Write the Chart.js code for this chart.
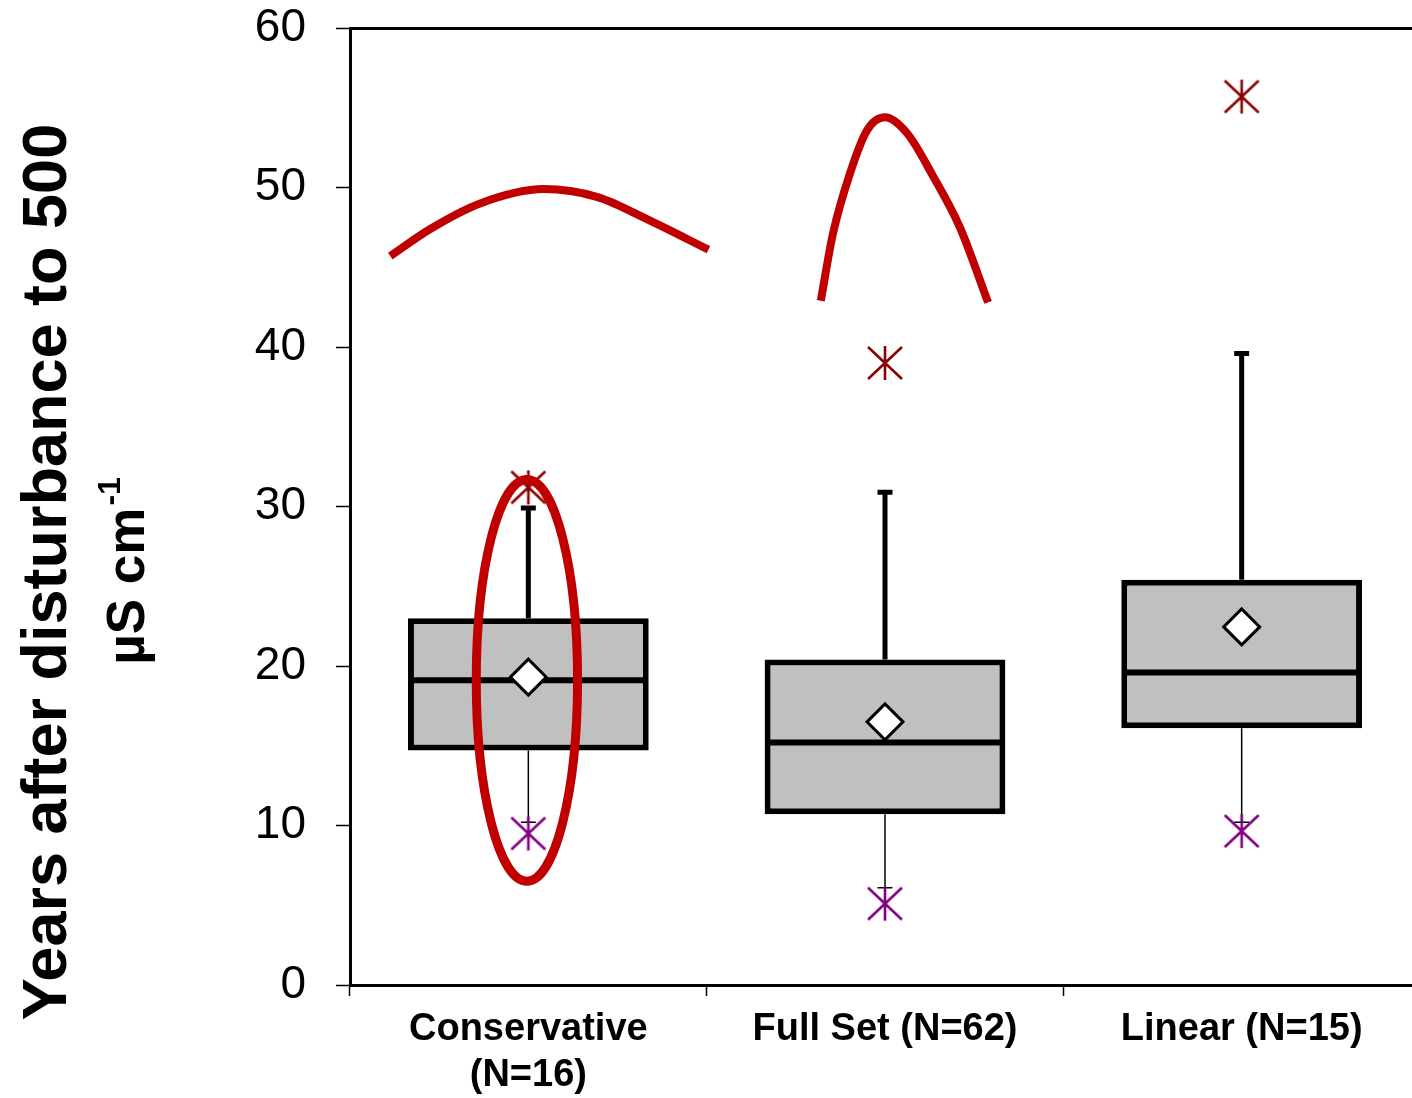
<!DOCTYPE html>
<html>
<head>
<meta charset="utf-8">
<script src="https://cdn.jsdelivr.net/npm/chart.js@4.4.1/dist/chart.umd.min.js"></script>
<style>
  html, body { margin: 0; padding: 0; background: #fff; overflow: hidden; }
  #myChart { display: block; }
</style>
</head>
<body>
<canvas id="myChart" width="1420" height="1098"></canvas>
<script>
// Werte
var categories = [["Conservative", "(N=16)"], "Full Set (N=62)", "Linear (N=15)"];
var q1 = [14.7, 10.7, 16.1];
var q3 = [23.0, 20.4, 25.4];
var medians = [19.1, 15.2, 19.6];
var means = [19.3, 16.5, 22.45];
var whiskerHigh = [29.9, 30.9, 39.6];
var whiskerLow = [10.2, 6.1, 10.2];
var outliersHigh = [31.2, 39.0, 55.7];
var outliersLow = [9.5, 5.1, 9.65];

// rote Markierungen (x = Kategorie-Index)
var arcOne = [
  { x: -0.387, y: 45.7 },
  { x: -0.275, y: 47.4 },
  { x: -0.135, y: 49.0 },
  { x: 0.042, y: 49.9 },
  { x: 0.194, y: 49.4 },
  { x: 0.334, y: 48.0 },
  { x: 0.505, y: 46.1 },
];
var arcTwo = [
  { x: 0.82, y: 42.9 },
  { x: 0.854, y: 47.1 },
  { x: 0.902, y: 50.9 },
  { x: 0.95, y: 53.6 },
  { x: 1.0, y: 54.4 },
  { x: 1.062, y: 53.4 },
  { x: 1.135, y: 50.7 },
  { x: 1.21, y: 47.5 },
  { x: 1.289, y: 42.8 },
];
var ring = { x: -0.004, y: 19.1, rx: 0.142, ry: 12.6 };

var yTitle = "Years after disturbance to 500";
var yUnit = "\u00b5S cm";
var yUnitSup = "-1";

var capHalf = 0.021;
var boxHalf = 0.33;

function segments(fn) {
  var out = [];
  for (var i = 0; i < categories.length; i++) {
    out = out.concat(fn(i));
    out.push({ x: null, y: null });
  }
  return out;
}

var boxes = q1.map(function (v, i) { return [v, q3[i]]; });
var medianLines = segments(function (i) {
  return [{ x: i - boxHalf, y: medians[i] }, { x: i + boxHalf, y: medians[i] }];
});
var upperWhisk = segments(function (i) {
  return [{ x: i, y: q3[i] }, { x: i, y: whiskerHigh[i] }, { x: null, y: null },
          { x: i - capHalf, y: whiskerHigh[i] }, { x: i + capHalf, y: whiskerHigh[i] }];
});
var lowerWhisk = segments(function (i) {
  return [{ x: i, y: q1[i] }, { x: i, y: whiskerLow[i] }, { x: null, y: null },
          { x: i - capHalf, y: whiskerLow[i] }, { x: i + capHalf, y: whiskerLow[i] }];
});
var meanPts = means.map(function (v, i) { return { x: i, y: v }; });
var highPts = outliersHigh.map(function (v, i) { return { x: i, y: v }; });
var lowPts = outliersLow.map(function (v, i) { return { x: i, y: v }; });

function makeStar(color) {
  var c = document.createElement("canvas");
  c.width = 38; c.height = 38;
  var g = c.getContext("2d");
  g.strokeStyle = color;
  g.lineWidth = 2.6;
  g.beginPath();
  g.moveTo(19, 2); g.lineTo(19, 36);
  g.moveTo(2, 3); g.lineTo(36, 35);
  g.moveTo(36, 3); g.lineTo(2, 35);
  g.stroke();
  return c;
}

function noPad(s) {
  s.paddingTop = 0; s.paddingBottom = 0; s.paddingLeft = 0; s.paddingRight = 0;
}

Chart.defaults.font.family = "'Liberation Sans', Arial, sans-serif";
Chart.defaults.color = "#000";

var extras = {
  id: "extras",
  afterDatasetsDraw: function (chart) {
    var xs = chart.scales.xs, y = chart.scales.y, ctx = chart.ctx;
    var cx = xs.getPixelForValue(ring.x), cy = y.getPixelForValue(ring.y);
    var rx = Math.abs(xs.getPixelForValue(ring.x + ring.rx) - cx);
    var ry = Math.abs(y.getPixelForValue(ring.y + ring.ry) - cy);
    ctx.save();
    ctx.strokeStyle = "#c00000";
    ctx.lineWidth = 9;
    ctx.beginPath();
    ctx.ellipse(cx, cy, rx, ry, 0, 0, Math.PI * 2);
    ctx.stroke();
    ctx.restore();
  },
  afterDraw: function (chart) {
    var ctx = chart.ctx;
    ctx.save();
    ctx.fillStyle = "#000";
    ctx.textBaseline = "alphabetic";
    ctx.translate(66, 572);
    ctx.rotate(-Math.PI / 2);
    ctx.font = "bold 63px 'Liberation Sans', Arial, sans-serif";
    ctx.textAlign = "center";
    ctx.fillText(yTitle, 0, 0);
    // zweite Zeile mit Hochzahl
    ctx.font = "bold 53px 'Liberation Sans', Arial, sans-serif";
    var w1 = ctx.measureText(yUnit).width;
    ctx.font = "bold 32px 'Liberation Sans', Arial, sans-serif";
    var w2 = ctx.measureText(yUnitSup).width;
    var start = -(w1 + w2) / 2;
    ctx.textAlign = "left";
    ctx.font = "bold 53px 'Liberation Sans', Arial, sans-serif";
    ctx.fillText(yUnit, start, 78);
    ctx.font = "bold 32px 'Liberation Sans', Arial, sans-serif";
    ctx.fillText(yUnitSup, start + w1 + 2, 78 - 24);
    ctx.restore();
  },
};

new Chart("myChart", {
  type: "bar",
  data: {
    labels: categories,
    datasets: [
      {
        type: "line",
        xAxisID: "xs",
        data: arcOne,
        borderColor: "#c00000",
        borderWidth: 8,
        borderCapStyle: "butt",
        pointRadius: 0,
        cubicInterpolationMode: "monotone",
        order: 0,
      },
      {
        type: "line",
        xAxisID: "xs",
        data: arcTwo,
        borderColor: "#c00000",
        borderWidth: 8,
        borderCapStyle: "butt",
        pointRadius: 0,
        cubicInterpolationMode: "monotone",
        order: 0,
      },
      {
        type: "scatter",
        xAxisID: "xs",
        data: highPts,
        pointStyle: makeStar("#8b0000"),
        order: 1,
      },
      {
        type: "scatter",
        xAxisID: "xs",
        data: lowPts,
        pointStyle: makeStar("#800080"),
        order: 1,
      },
      {
        type: "scatter",
        xAxisID: "xs",
        data: meanPts,
        pointStyle: "rectRot",
        pointRadius: 18,
        pointBackgroundColor: "#fff",
        pointBorderColor: "#000",
        pointBorderWidth: 3,
        order: 2,
      },
      {
        type: "line",
        xAxisID: "xs",
        data: medianLines,
        borderColor: "#000",
        borderWidth: 6,
        borderCapStyle: "butt",
        pointRadius: 0,
        spanGaps: false,
        order: 3,
      },
      {
        type: "line",
        xAxisID: "xs",
        data: upperWhisk,
        borderColor: "#000",
        borderWidth: 5,
        borderCapStyle: "butt",
        pointRadius: 0,
        spanGaps: false,
        order: 4,
      },
      {
        type: "line",
        xAxisID: "xs",
        data: lowerWhisk,
        borderColor: "#000",
        borderWidth: 1.5,
        borderCapStyle: "butt",
        pointRadius: 0,
        spanGaps: false,
        order: 4,
      },
      {
        type: "bar",
        xAxisID: "x",
        data: boxes,
        backgroundColor: "#c0c0c0",
        borderColor: "#000",
        borderWidth: 6,
        borderSkipped: false,
        grouped: false,
        barPercentage: 0.675,
        categoryPercentage: 1,
        order: 5,
      },
    ],
  },
  options: {
    responsive: false,
    animation: false,
    events: [],
    devicePixelRatio: 1,
    layout: { autoPadding: false, padding: { top: 28, right: 0, left: 0, bottom: 0 } },
    plugins: {
      legend: false,
      tooltip: { enabled: false },
    },
    scales: {
      x: {
        type: "category",
        position: "bottom",
        offset: true,
        grid: {
          offset: true,
          drawOnChartArea: false,
          tickLength: 11,
          tickWidth: 1.5,
          color: "#000",
        },
        border: { display: true, color: "#000", width: 3 },
        ticks: {
          font: { size: 38, weight: "bold" },
          padding: 11,
          maxRotation: 0,
          autoSkip: false,
        },
        afterFit: function (s) { s.height = 113; noPad(s); },
      },
      xs: {
        type: "linear",
        position: "top",
        offset: false,
        min: -0.5,
        max: 2.5,
        ticks: { display: false },
        grid: { offset: false, drawOnChartArea: false, drawTicks: false },
        border: { display: true, color: "#000", width: 3 },
        afterFit: function (s) { s.height = 0; noPad(s); },
      },
      y: {
        min: 0,
        max: 60,
        ticks: { stepSize: 10, font: { size: 46 }, padding: 30 },
        grid: {
          drawOnChartArea: false,
          tickLength: 14,
          tickWidth: 1.5,
          color: "#000",
        },
        border: { display: true, color: "#000", width: 3 },
        afterFit: function (s) { s.width = 350; noPad(s); },
      },
    },
  },
  plugins: [extras],
});
</script>
</body>
</html>
